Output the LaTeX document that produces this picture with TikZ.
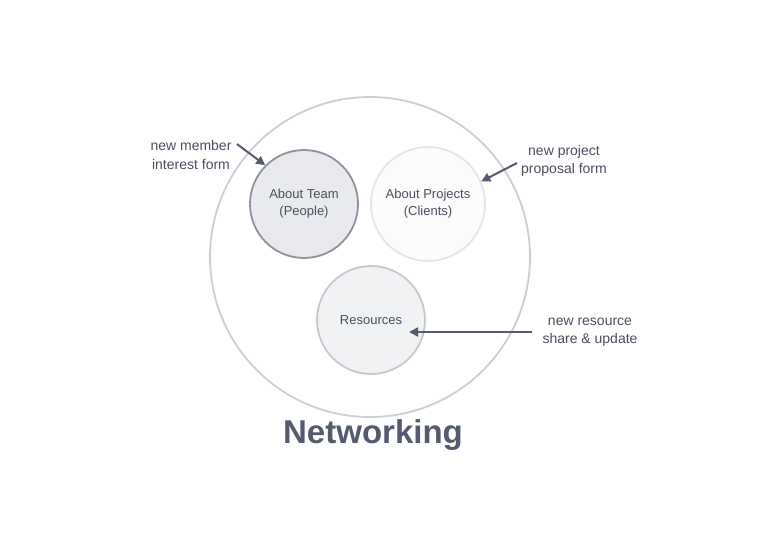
\documentclass[tikz,border=0pt]{standalone}
\usepackage{fontspec}
\setmainfont{Liberation Sans}
\usetikzlibrary{arrows.meta}
\definecolor{txt}{HTML}{4A4F60}
\definecolor{dark}{HTML}{555B6E}
\definecolor{outerc}{HTML}{CDCED5}
\definecolor{teamd}{HTML}{8F929D}
\definecolor{teamf}{HTML}{E9EAED}
\definecolor{projd}{HTML}{E4E5E8}
\definecolor{projf}{HTML}{FBFBFB}
\definecolor{resd}{HTML}{C6C8CF}
\definecolor{resf}{HTML}{F1F2F4}
\tikzset{
  lbl/.style={font=\fontsize{14}{18.5}\selectfont, text=txt, align=center},
  inlbl/.style={font=\fontsize{13}{17}\selectfont, text=txt, align=center},
  circ/.style={circle, inner sep=0pt, line width=1.8pt},
  arr/.style={draw=dark, line width=2pt, -{Triangle[length=9pt,width=9pt]}}
}
\begin{document}
\begin{tikzpicture}[x=1pt,y=-1pt]
\useasboundingbox[fill=white] (0,0) rectangle (781,555);
\node[circ, draw=outerc, minimum size=320pt] (outer) at (370,257) {};
\node[circ, draw=teamd, fill=teamf, minimum size=108pt, inlbl] (team) at (304,204) {About Team\\(People)};
\node[circ, draw=projd, fill=projf, minimum size=114pt, inlbl] (proj) at (428,204) {About Projects\\(Clients)};
\node[circ, draw=resd, fill=resf, minimum size=108pt, inlbl] (res) at (371,320) {Resources};
\node[lbl] (lm) at (191,155) {new member\\interest form};
\node[lbl] (lp) at (564,161) {new project\\proposal form};
\node[lbl] (lr) at (590,332) {new resource\\share \& update};
\node[font=\fontsize{33}{36}\selectfont\bfseries, text=dark] (title) at (373,435) {Networking};
\coordinate (ms) at (237,144);
\coordinate (ps) at (517,163);
\coordinate (rs) at (532,332);
\coordinate (rt) at (409,332);
\draw[arr] (ms) -- (team.135);
\draw[arr] (ps) -- (proj.23);
\draw[arr] (rs) -- (rt);
\end{tikzpicture}
\end{document}
